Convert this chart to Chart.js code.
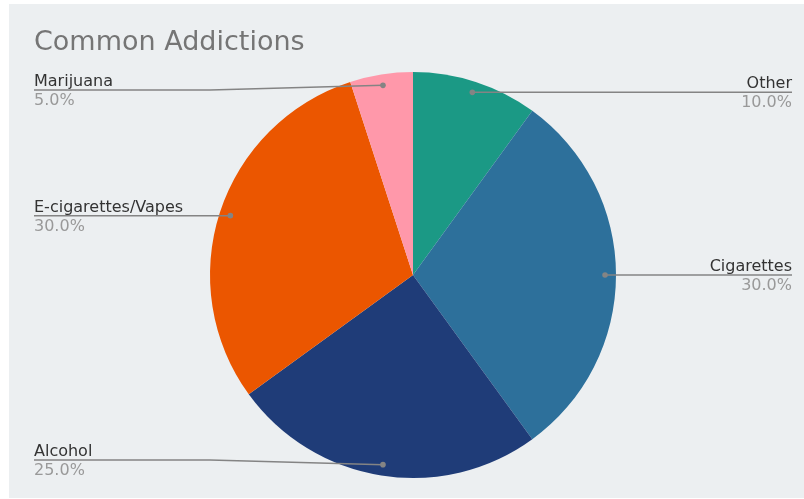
<!DOCTYPE html>
<html>
<head>
<meta charset="utf-8">
<title>Common Addictions</title>
<script src="https://cdn.jsdelivr.net/npm/chart.js@4"></script>
<style>
    html, body { margin: 0; padding: 0; background: #ffffff; }
    #panel {
        position: absolute;
        left: 9px;
        top: 4px;
        width: 795px;
        height: 494px;
        background: #eceff1;
    }
    #addictionsChart { display: block; }
</style>
</head>
<body>
<div id="panel">
    <canvas id="addictionsChart" width="795" height="494"></canvas>
</div>
<script>
const chartTitle = 'Common Addictions';
const categories = ['Other', 'Cigarettes', 'Alcohol', 'E-cigarettes/Vapes', 'Marijuana'];
const shares = [10, 30, 25, 30, 5];
const sliceColors = ['#1b9985', '#2d709b', '#1f3c78', '#eb5600', '#ff98aa'];

const FONT = '"DejaVu Sans", Verdana, sans-serif';
const LABEL_LEFT = 25;
const LABEL_RIGHT = 783;

// Title plus outside labels with leader lines, drawn after the pie
const calloutPlugin = {
    id: 'callouts',
    afterDatasetsDraw(chart) {
        const ctx = chart.ctx;
        const area = chart.chartArea;
        const arcs = chart.getDatasetMeta(0).data;
        const total = shares.reduce((a, b) => a + b, 0);

        ctx.save();
        ctx.fillStyle = '#757575';
        ctx.font = '27px ' + FONT;
        ctx.textBaseline = 'alphabetic';
        ctx.textAlign = 'left';
        ctx.fillText(chartTitle, LABEL_LEFT, 46);

        arcs.forEach((arc, i) => {
            const mid = (arc.startAngle + arc.endAngle) / 2;
            const r = arc.outerRadius * 0.946;
            const dotX = arc.x + Math.cos(mid) * r;
            const dotY = arc.y + Math.sin(mid) * r;
            const right = Math.cos(mid) > 0;

            // keep the text block inside the plot area
            const lineY = Math.min(Math.max(dotY, area.top + 18), area.bottom - 18);
            const endX = right ? LABEL_RIGHT : LABEL_LEFT;
            const kneeX = right ? arc.x + arc.outerRadius : arc.x - arc.outerRadius;

            ctx.strokeStyle = '#848484';
            ctx.lineWidth = 1.5;
            ctx.beginPath();
            ctx.moveTo(endX, lineY);
            ctx.lineTo(kneeX, lineY);
            ctx.lineTo(dotX, dotY);
            ctx.stroke();

            ctx.fillStyle = '#848484';
            ctx.beginPath();
            ctx.arc(dotX, dotY, 2.8, 0, Math.PI * 2);
            ctx.fill();

            ctx.textAlign = right ? 'right' : 'left';
            ctx.font = '16px ' + FONT;
            ctx.fillStyle = '#333333';
            ctx.fillText(categories[i], endX, lineY - 4);
            ctx.fillStyle = '#999999';
            ctx.fillText((shares[i] / total * 100).toFixed(1) + '%', endX, lineY + 15);
        });
        ctx.restore();
    }
};

new Chart(document.getElementById('addictionsChart').getContext('2d'), {
    type: 'pie',
    data: {
        labels: categories,
        datasets: [{
            data: shares,
            backgroundColor: sliceColors,
            borderWidth: 0,
            hoverOffset: 0
        }]
    },
    options: {
        responsive: false,
        animation: false,
        events: [],
        layout: {
            padding: { left: 13, right: 0, top: 68, bottom: 20 }
        },
        plugins: {
            legend: { display: false },
            tooltip: { enabled: false }
        }
    },
    plugins: [calloutPlugin]
});
</script>
</body>
</html>
